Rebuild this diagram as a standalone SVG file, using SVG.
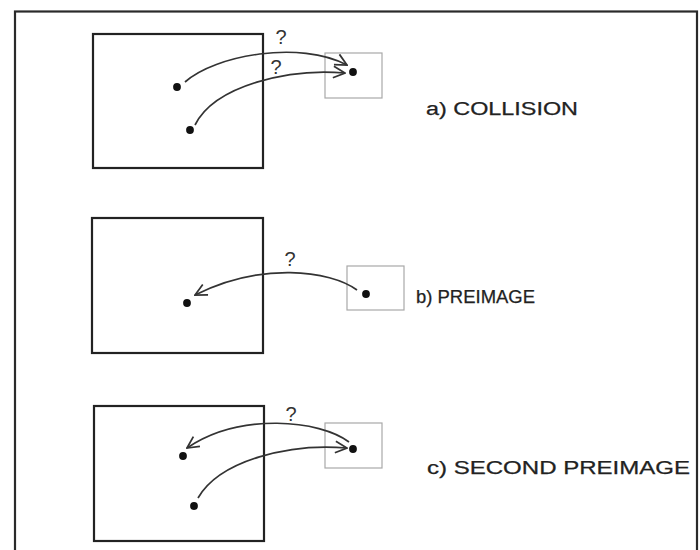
<svg xmlns="http://www.w3.org/2000/svg" width="700" height="550" viewBox="0 0 700 550">
  <style>
    .frame { fill: none; stroke: #2a2a2a; stroke-width: 2.2; }
    .domain { fill: none; stroke: #222; stroke-width: 2.2; }
    .range { fill: none; stroke: #a8a8a8; stroke-width: 1.2; }
    .pt { fill: #111; }
    .arc { fill: none; stroke: #333; stroke-width: 1.7; marker-end: url(#open); }
    .q { font-family: "Liberation Sans", Arial, sans-serif; font-size: 20px; fill: #333; text-anchor: middle; }
    .lbl { font-family: "Liberation Sans", Arial, sans-serif; font-size: 18px; fill: #222; stroke: #222; stroke-width: 0.25; }
  </style>
  <defs>
    <marker id="open" viewBox="0 0 12 12" refX="11" refY="6" markerWidth="14" markerHeight="14" markerUnits="userSpaceOnUse" orient="auto">
      <path d="M1,1 L11,6 L1,11" fill="none" stroke="#333" stroke-width="1.5"/>
    </marker>
  </defs>

  <rect class="frame" x="15" y="11.5" width="682" height="560"/>

  <!-- a) collision -->
  <g id="collision">
    <rect class="domain" x="93" y="34" width="170" height="134"/>
    <rect class="range" x="325" y="53" width="57" height="45"/>
    <circle class="pt" cx="177" cy="87" r="3.9"/>
    <circle class="pt" cx="190" cy="130" r="3.9"/>
    <circle class="pt" cx="353" cy="72" r="3.9"/>
    <text class="lbl" x="426" y="114.5" textLength="152" lengthAdjust="spacingAndGlyphs">a) COLLISION</text>
  </g>

  <!-- b) preimage -->
  <g id="preimage">
    <rect class="domain" x="92" y="218" width="171" height="135"/>
    <rect class="range" x="347" y="266" width="57" height="44"/>
    <circle class="pt" cx="187" cy="303" r="3.9"/>
    <circle class="pt" cx="366" cy="294" r="3.9"/>
    <text class="lbl" x="416" y="302.5" textLength="119" lengthAdjust="spacingAndGlyphs">b) PREIMAGE</text>
  </g>

  <!-- c) second preimage -->
  <g id="second-preimage">
    <rect class="domain" x="94" y="406" width="170" height="135"/>
    <rect class="range" x="325" y="423" width="57" height="45"/>
    <circle class="pt" cx="183" cy="456" r="3.9"/>
    <circle class="pt" cx="194" cy="506" r="3.9"/>
    <circle class="pt" cx="353" cy="449" r="3.9"/>
    <text class="lbl" x="427" y="473.5" textLength="263" lengthAdjust="spacingAndGlyphs">c) SECOND PREIMAGE</text>
  </g>

  <!-- mapping arcs -->
  <g id="connectors">
    <path class="arc" d="M185,82 C215,55 300,40 347,65"/>
    <path class="arc" d="M195,125 C215,85 290,68 345,73"/>
    <text class="q" x="281" y="43.5">?</text>
    <text class="q" x="276" y="74">?</text>

    <path class="arc" d="M357,290 C330,270 260,262 195,295"/>
    <text class="q" x="290" y="266">?</text>

    <path class="arc" d="M349,442 C320,420 240,412 187,448"/>
    <path class="arc" d="M198,498 C220,460 290,443 347,448"/>
    <text class="q" x="291" y="420.5">?</text>
  </g>
</svg>
